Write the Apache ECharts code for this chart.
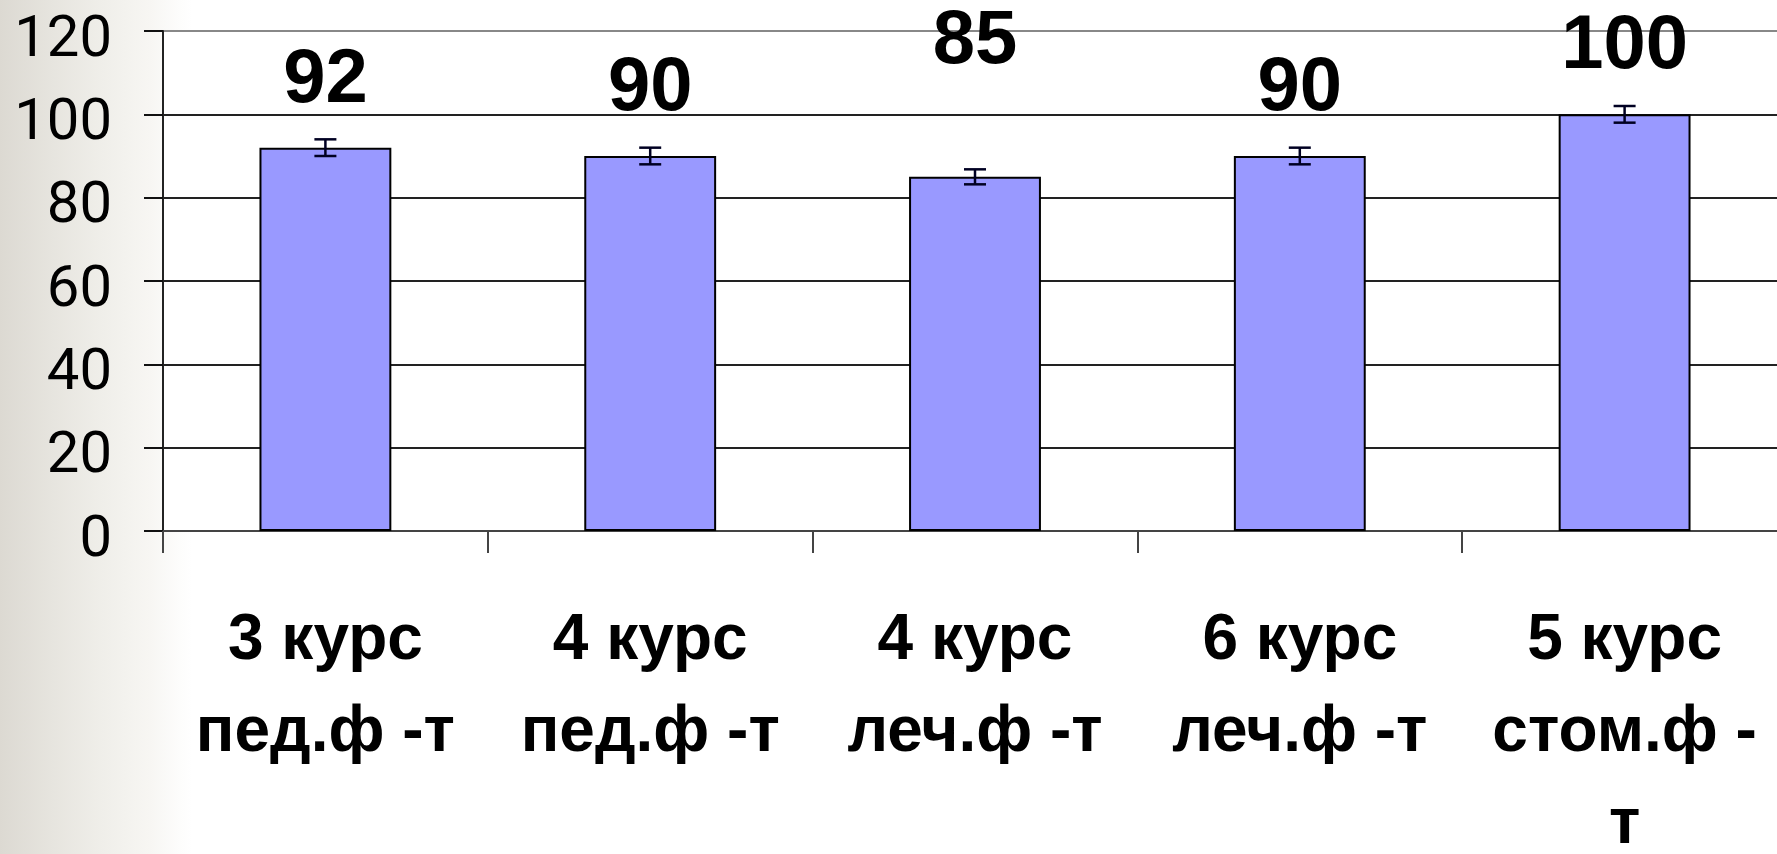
<!DOCTYPE html>
<html>
<head>
<meta charset="utf-8">
<script src="https://cdn.jsdelivr.net/npm/echarts@6/dist/echarts.min.js"></script>
<style>
  html, body { margin: 0; padding: 0; width: 1777px; height: 854px; overflow: hidden;
    background: linear-gradient(to right, #dcd9d2 0px, #e6e4de 50px, #efeee9 100px, #f7f6f3 150px, #fdfdfc 180px, #ffffff 192px); }
  #chart { width: 1777px; height: 854px; }
</style>
</head>
<body>
<div id="chart"></div>
<script>
// ---- data ----
const categories = ['3 курс\nпед.ф -т', '4 курс\nпед.ф -т', '4 курс\nлеч.ф -т', '6 курс\nлеч.ф -т', '5 курс\nстом.ф -\nт'];
const values = [92, 90, 85, 90, 100];
const errors = [2, 2, 1.8, 2, 2];
const yTicks = [0, 20, 40, 60, 80, 100, 120];

// ---- font detection ----
function hasFont(name) {
  const c = document.createElement('canvas').getContext('2d');
  const s = 'пед.ф -т курс 0123456789';
  let same = true;
  ['monospace', 'serif'].forEach(fb => {
    c.font = 'bold 40px ' + fb;
    const a = c.measureText(s).width;
    c.font = 'bold 40px "' + name + '", ' + fb;
    const b = c.measureText(s).width;
    if (a !== b) same = false;
  });
  return !same;
}
let xFont = 'Liberation Sans', xSize = 64;
if (hasFont('Liberation Sans Narrow')) { xFont = 'Liberation Sans Narrow'; xSize = 70; }

const chart = echarts.init(document.getElementById('chart'), null, { renderer: 'canvas' });

const option = {
  backgroundColor: 'transparent',
  animation: false,
  grid: {
    left: 163, top: 31, right: -10, bottom: 323,
    containLabel: false, outerBoundsMode: 'none',
    show: true, backgroundColor: '#ffffff', borderWidth: 0
  },
  xAxis: {
    type: 'category',
    data: categories,
    axisLine: { show: true, lineStyle: { color: '#444', width: 2 } },
    axisTick: { show: true, length: 22, lineStyle: { color: '#444', width: 2 } },
    axisLabel: {
      margin: 64, interval: 0,
      fontFamily: xFont, fontWeight: 'bold', fontSize: xSize, lineHeight: 92, color: '#000'
    },
    splitLine: { show: false }
  },
  yAxis: {
    type: 'value',
    min: yTicks[0], max: yTicks[yTicks.length - 1], interval: 20,
    axisLine: { show: true, lineStyle: { color: '#222', width: 2 } },
    axisTick: { show: true, length: 19, lineStyle: { color: '#111', width: 2 } },
    axisLabel: {
      margin: 51, fontFamily: 'Roboto', fontSize: 58, color: '#000',
      verticalAlign: 'top', lineHeight: 20
    },
    splitLine: { show: true, lineStyle: { color: ['#444', '#222', '#222', '#222', '#222', '#222', '#888'], width: 2 } }
  },
  series: [
    {
      type: 'bar',
      barWidth: '40.6%',
      itemStyle: { color: '#9999ff', borderColor: '#000', borderWidth: 2 },
      label: {
        show: true, position: 'top', distance: 67, verticalAlign: 'middle',
        fontFamily: 'Liberation Sans', fontWeight: 'bold', fontSize: 76, color: '#000'
      },
      data: values.map((v, i) => i === 2 ? { value: v, label: { distance: 135 } } : v),
      z: 2
    },
    {
      type: 'custom',
      z: 5,
      renderItem: function (params, api) {
        const x = api.value(0);
        const lo = api.coord([x, api.value(1)]);
        const hi = api.coord([x, api.value(2)]);
        const hw = 11;
        const st = { stroke: '#000022', lineWidth: 2.5 };
        return {
          type: 'group',
          children: [
            { type: 'line', shape: { x1: hi[0], y1: hi[1], x2: lo[0], y2: lo[1] }, style: st },
            { type: 'line', shape: { x1: hi[0] - hw, y1: hi[1], x2: hi[0] + hw, y2: hi[1] }, style: st },
            { type: 'line', shape: { x1: lo[0] - hw, y1: lo[1], x2: lo[0] + hw, y2: lo[1] }, style: st }
          ]
        };
      },
      data: values.map((v, i) => [i, v - errors[i], v + errors[i]])
    }
  ]
};
chart.setOption(option);
</script>
</body>
</html>
